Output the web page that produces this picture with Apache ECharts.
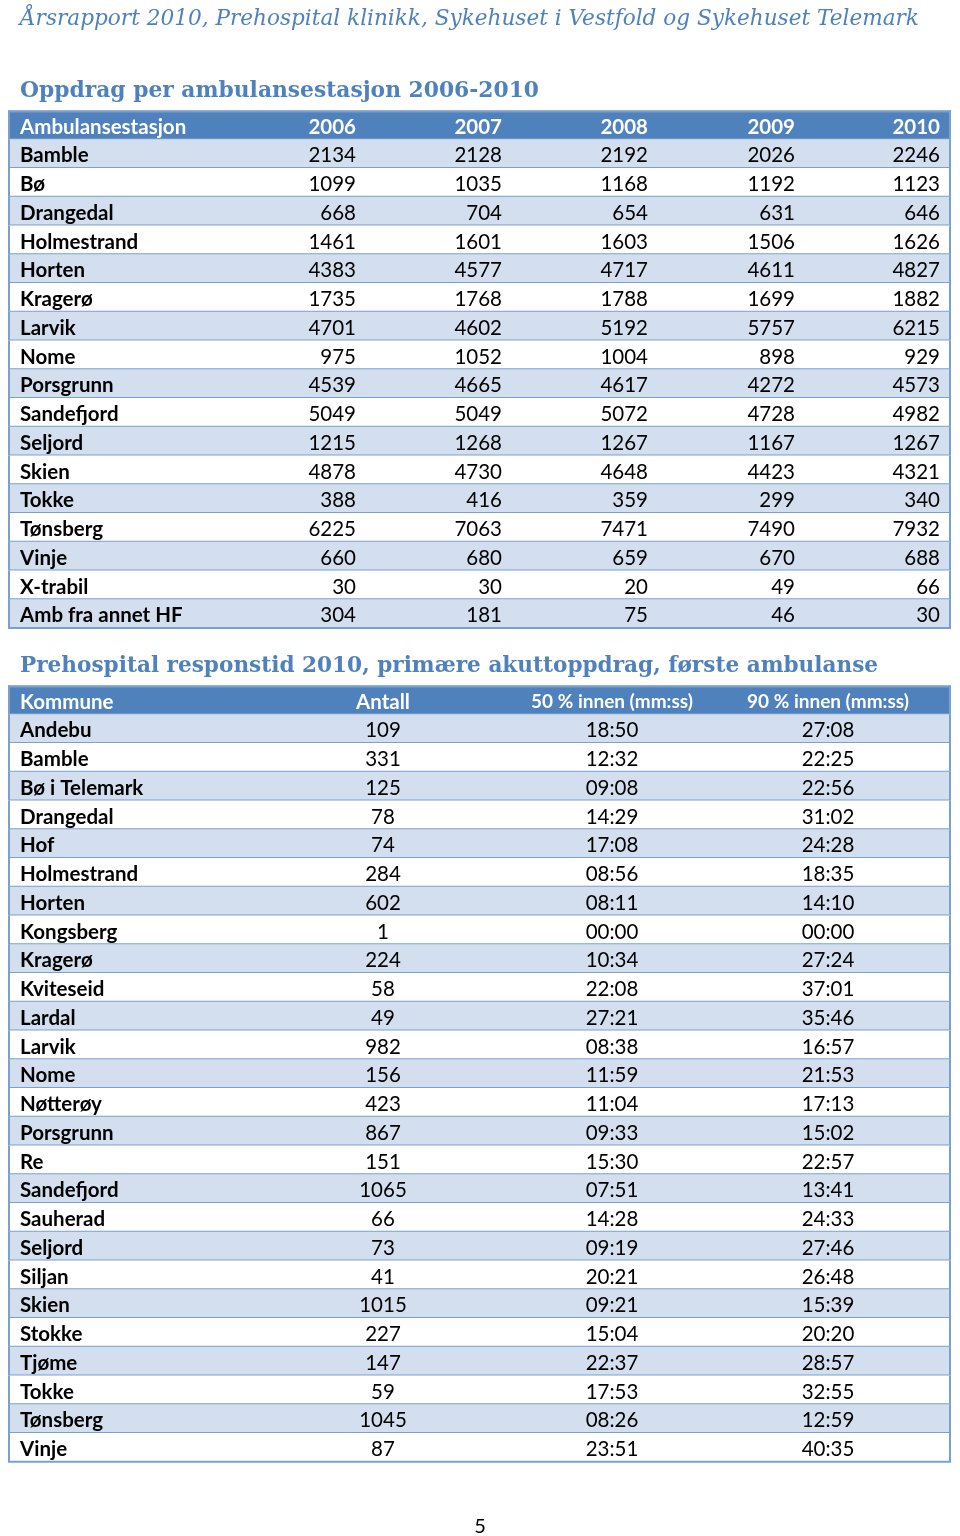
<!DOCTYPE html>
<html>
<head>
<meta charset="utf-8">
<script src="https://cdn.jsdelivr.net/npm/echarts@6/dist/echarts.min.js"></script>
<style>html,body{margin:0;padding:0;background:#fff;}#c{width:960px;height:1536px;}</style>
</head>
<body>
<div id="c"></div>
<script>
// ---------- DATA ----------
const pageHeader = 'Årsrapport 2010, Prehospital klinikk, Sykehuset i Vestfold og Sykehuset Telemark';
const title1 = 'Oppdrag per ambulansestasjon 2006-2010';
const title2 = 'Prehospital responstid 2010, primære akuttoppdrag, første ambulanse';
const pageNumber = '5';

const header1 = ['Ambulansestasjon', '2006', '2007', '2008', '2009', '2010'];
const stations = ['Bamble','Bø','Drangedal','Holmestrand','Horten','Kragerø','Larvik','Nome','Porsgrunn','Sandefjord','Seljord','Skien','Tokke','Tønsberg','Vinje','X-trabil','Amb fra annet HF'];
const v2006 = [2134,1099,668,1461,4383,1735,4701,975,4539,5049,1215,4878,388,6225,660,30,304];
const v2007 = [2128,1035,704,1601,4577,1768,4602,1052,4665,5049,1268,4730,416,7063,680,30,181];
const v2008 = [2192,1168,654,1603,4717,1788,5192,1004,4617,5072,1267,4648,359,7471,659,20,75];
const v2009 = [2026,1192,631,1506,4611,1699,5757,898,4272,4728,1167,4423,299,7490,670,49,46];
const v2010 = [2246,1123,646,1626,4827,1882,6215,929,4573,4982,1267,4321,340,7932,688,66,30];

const header2 = ['Kommune', 'Antall', '50 % innen (mm:ss)', '90 % innen (mm:ss)'];
const kommuner = ['Andebu','Bamble','Bø i Telemark','Drangedal','Hof','Holmestrand','Horten','Kongsberg','Kragerø','Kviteseid','Lardal','Larvik','Nome','Nøtterøy','Porsgrunn','Re','Sandefjord','Sauherad','Seljord','Siljan','Skien','Stokke','Tjøme','Tokke','Tønsberg','Vinje'];
const antall = [109,331,125,78,74,284,602,1,224,58,49,982,156,423,867,151,1065,66,73,41,1015,227,147,59,1045,87];
const p50 = ['18:50','12:32','09:08','14:29','17:08','08:56','08:11','00:00','10:34','22:08','27:21','08:38','11:59','11:04','09:33','15:30','07:51','14:28','09:19','20:21','09:21','15:04','22:37','17:53','08:26','23:51'];
const p90 = ['27:08','22:25','22:56','31:02','24:28','18:35','14:10','00:00','27:24','37:01','35:46','16:57','21:53','17:13','15:02','22:57','13:41','24:33','27:46','26:48','15:39','20:20','28:57','32:55','12:59','40:35'];

// ---------- LAYOUT / STYLE ----------
const TW = 943;                 // table width in axis units (px)
const HEAD_BG = '#4F81BD', ODD_BG = '#D3DFEE', EVEN_BG = '#FFFFFF', LINE = '#7BA0CD';
const BODY_FONT = 'Lato';
const col1 = [{x:12,a:'left'},{x:348,a:'right'},{x:494,a:'right'},{x:640,a:'right'},{x:787,a:'right'},{x:932,a:'right'}];
const col2 = [{x:12,a:'left'},{x:375,a:'center'},{x:604,a:'center'},{x:820,a:'center'}];

// ---------- BUILD ----------
const rows1 = [header1[0]].concat(stations);
const rows2 = [header2[0]].concat(kommuner);
const yearVals = [v2006, v2007, v2008, v2009, v2010];

const cells1 = [];
header1.forEach((h, c) => cells1.push({value:[col1[c].x, 0], text:h, align:col1[c].a, head:true, bold:true}));
stations.forEach((s, r) => {
  cells1.push({value:[col1[0].x, r+1], text:s, align:'left', bold:true});
  yearVals.forEach((arr, c) => cells1.push({value:[col1[c+1].x, r+1], text:String(arr[r]), align:'right'}));
});

const cells2 = [];
header2.forEach((h, c) => cells2.push({value:[col2[c].x, 0], text:h, align:col2[c].a, head:true, bold:true, small:c>=2}));
kommuner.forEach((k, r) => {
  cells2.push({value:[col2[0].x, r+1], text:k, align:'left', bold:true});
  cells2.push({value:[col2[1].x, r+1], text:String(antall[r]), align:'center'});
  cells2.push({value:[col2[2].x, r+1], text:p50[r], align:'center'});
  cells2.push({value:[col2[3].x, r+1], text:p90[r], align:'center'});
});

function rowRender(nRows) {
  return function (params, api) {
    const r = api.value(1);
    const p0 = api.coord([0, r]);
    const p1 = api.coord([TW, r]);
    const h = api.size([0, 1])[1];
    const top = p0[1] - h/2, bot = p0[1] + h/2;
    const fill = r === 0 ? HEAD_BG : (r % 2 === 1 ? ODD_BG : EVEN_BG);
    const ch = [
      {type:'rect', shape:{x:p0[0], y:top, width:p1[0]-p0[0], height:h}, style:{fill}},
      {type:'line', shape:{x1:p0[0], y1:bot, x2:p1[0], y2:bot}, style:{stroke:LINE, lineWidth: 2}},
      {type:'line', shape:{x1:p0[0]+1, y1:top, x2:p0[0]+1, y2:bot}, style:{stroke:LINE, lineWidth:2}},
      {type:'line', shape:{x1:p1[0]-1, y1:top, x2:p1[0]-1, y2:bot}, style:{stroke:LINE, lineWidth:2}}
    ];
    if (r === 0) ch.push({type:'line', shape:{x1:p0[0], y1:top+1, x2:p1[0], y2:top+1}, style:{stroke:LINE, lineWidth:2}});
    return {type:'group', children: ch};
  };
}

function cellRender(cells) {
  return function (params, api) {
    const d = cells[params.dataIndex];
    const p = api.coord([api.value(0), api.value(1)]);
    const size = d.small ? 19 : 20.5;
    return {type:'text', x:p[0], y:p[1]+2, style:{
      text:d.text, fill: d.head ? '#FFFFFF' : '#000000',
      font: (d.bold ? 'bold ' : '') + size + 'px ' + BODY_FONT,
      align:d.align, verticalAlign:'middle'
    }};
  };
}

const rowData1 = rows1.map((n, i) => [0, i]);
const rowData2 = rows2.map((n, i) => [0, i]);

const chart = echarts.init(document.getElementById('c'), null, {renderer:'canvas'});
chart.setOption({
  animation:false,
  backgroundColor:'#FFFFFF',
  grid:[
    {left:8, top:110.6, width:TW, height:18*28.75},
    {left:8, top:685.6, width:TW, height:27*28.75}
  ],
  xAxis:[
    {gridIndex:0, type:'value', min:0, max:TW, show:false},
    {gridIndex:1, type:'value', min:0, max:TW, show:false}
  ],
  yAxis:[
    {gridIndex:0, type:'category', data:rows1, inverse:true, show:false},
    {gridIndex:1, type:'category', data:rows2, inverse:true, show:false}
  ],
  graphic:[
    {type:'text', x:20, y:19, style:{text:pageHeader, font:'italic 21.6px "DejaVu Serif"', fill:'#4F81BD', verticalAlign:'middle'}},
    {type:'text', x:20, y:91, style:{text:title1, font:'bold 21.8px "DejaVu Serif"', fill:'#4F81BD', verticalAlign:'middle'}},
    {type:'text', x:20, y:666, style:{text:title2, font:'bold 21.6px "DejaVu Serif"', fill:'#4F81BD', verticalAlign:'middle'}},
    {type:'text', x:480, y:1527, style:{text:pageNumber, font:'20px ' + BODY_FONT, fill:'#000', align:'center', verticalAlign:'middle'}}
  ],
  series:[
    {type:'custom', xAxisIndex:0, yAxisIndex:0, data:rowData1, renderItem:rowRender(rows1.length), clip:false, z:1},
    {type:'custom', xAxisIndex:0, yAxisIndex:0, data:cells1.map(c=>c.value), renderItem:cellRender(cells1), clip:false, z:2},
    {type:'custom', xAxisIndex:1, yAxisIndex:1, data:rowData2, renderItem:rowRender(rows2.length), clip:false, z:1},
    {type:'custom', xAxisIndex:1, yAxisIndex:1, data:cells2.map(c=>c.value), renderItem:cellRender(cells2), clip:false, z:2}
  ]
});
</script>
</body>
</html>
